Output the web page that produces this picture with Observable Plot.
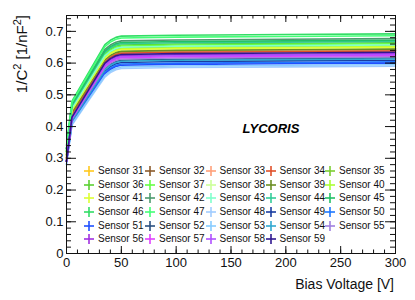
<!DOCTYPE html>
<html><head><meta charset="utf-8">
<script src="https://cdn.jsdelivr.net/npm/d3@7"></script>
<script src="https://cdn.jsdelivr.net/npm/@observablehq/plot@0.6"></script>
<style>
body{margin:0;background:#fff;}
#wrap{position:relative;width:415px;height:300px;font-family:"Liberation Sans",Arial,sans-serif;}
.item{position:absolute;font-size:10px;color:#111;white-space:nowrap;line-height:10px;}
.item svg{position:absolute;left:0;top:0;}
.item span{position:absolute;left:14px;top:0;}
</style></head><body><div id="wrap"></div><script>
const sensors = ["Sensor 31","Sensor 32","Sensor 33","Sensor 34","Sensor 35","Sensor 36","Sensor 37","Sensor 38","Sensor 39","Sensor 40","Sensor 41","Sensor 42","Sensor 43","Sensor 44","Sensor 45","Sensor 46","Sensor 47","Sensor 48","Sensor 49","Sensor 50","Sensor 51","Sensor 52","Sensor 53","Sensor 54","Sensor 55","Sensor 56","Sensor 57","Sensor 58","Sensor 59"];
const colors = ["#ffc81e","#8b5a2b","#ffa07a","#e0502a","#7ccd32","#5cd032","#66ff44","#ccff99","#6b8e23","#aaff33","#ddff33","#4c9a6e","#80ffcc","#33cc99","#22c066","#33dd66","#44ff77","#a0ccff","#1a3ca0","#1e78ff","#2050ff","#2b5080","#88ccff","#30a8d0","#a080e0","#a030e0","#e040ff","#b050ff","#301890"];
const voltages = [0, 5, 20, 35, 40, 45, 50, 100, 200, 300];
const s31 = [0.30,0.445,0.529,0.612,0.626,0.635,0.639,0.642,0.644,0.646];
const s32 = [0.30,0.440,0.523,0.606,0.620,0.629,0.633,0.636,0.638,0.640];
const s33 = [0.31,0.445,0.526,0.607,0.621,0.630,0.634,0.637,0.639,0.641];
const s34 = [0.30,0.440,0.522,0.604,0.618,0.627,0.631,0.634,0.636,0.638];
const s35 = [0.32,0.455,0.538,0.621,0.635,0.644,0.648,0.651,0.653,0.655];
const s36 = [0.32,0.460,0.545,0.630,0.644,0.653,0.657,0.660,0.662,0.664];
const s37 = [0.32,0.462,0.545,0.627,0.641,0.650,0.654,0.657,0.659,0.661];
const s38 = [0.31,0.450,0.531,0.612,0.626,0.635,0.639,0.642,0.644,0.646];
const s39 = [0.31,0.445,0.528,0.610,0.624,0.633,0.637,0.640,0.642,0.644];
const s40 = [0.32,0.455,0.537,0.618,0.632,0.641,0.645,0.648,0.650,0.652];
const s41 = [0.31,0.452,0.534,0.616,0.630,0.639,0.643,0.646,0.648,0.650];
const s42 = [0.33,0.470,0.557,0.643,0.657,0.666,0.670,0.673,0.675,0.677];
const s43 = [0.32,0.458,0.541,0.623,0.637,0.646,0.650,0.653,0.655,0.657];
const s44 = [0.33,0.465,0.550,0.634,0.648,0.657,0.661,0.664,0.666,0.668];
const s45 = [0.33,0.470,0.554,0.638,0.652,0.661,0.665,0.668,0.670,0.672];
const s46 = [0.34,0.480,0.569,0.658,0.672,0.681,0.685,0.688,0.690,0.692];
const s47 = [0.33,0.476,0.564,0.652,0.666,0.675,0.679,0.682,0.684,0.686];
const s48 = [0.28,0.405,0.481,0.556,0.570,0.579,0.583,0.586,0.588,0.590];
const s49 = [0.29,0.415,0.495,0.575,0.589,0.598,0.602,0.605,0.607,0.609];
const s50 = [0.29,0.412,0.491,0.570,0.584,0.593,0.597,0.600,0.602,0.604];
const s51 = [0.29,0.410,0.488,0.566,0.580,0.589,0.593,0.596,0.598,0.600];
const s52 = [0.29,0.420,0.501,0.582,0.596,0.605,0.609,0.612,0.614,0.616];
const s53 = [0.28,0.408,0.485,0.561,0.575,0.584,0.588,0.591,0.593,0.595];
const s54 = [0.29,0.418,0.499,0.579,0.593,0.602,0.606,0.609,0.611,0.613];
const s55 = [0.29,0.425,0.506,0.586,0.600,0.609,0.613,0.616,0.618,0.620];
const s56 = [0.29,0.428,0.512,0.596,0.610,0.619,0.623,0.626,0.628,0.630];
const s57 = [0.29,0.425,0.508,0.590,0.604,0.613,0.617,0.620,0.622,0.624];
const s58 = [0.29,0.427,0.510,0.593,0.607,0.616,0.620,0.623,0.625,0.627];
const s59 = [0.29,0.430,0.515,0.600,0.614,0.623,0.627,0.630,0.632,0.634];
const series = [s31,s32,s33,s34,s35,s36,s37,s38,s39,s40,s41,s42,s43,s44,s45,s46,s47,s48,s49,s50,s51,s52,s53,s54,s55,s56,s57,s58,s59];
const xTicks = [0, 50, 100, 150, 200, 250, 300];
const yTicks = [0, 0.1, 0.2, 0.3, 0.4, 0.5, 0.6, 0.7];
const xMinor = d3.range(0, 301, 10);
const yMinor = d3.range(0, 0.7501, 0.02);

const data = [];
series.forEach((vals, i) => vals.forEach((c, j) => data.push({sensor: sensors[i], V: voltages[j], C: c})));

const W = 415, H = 300, mL = 66, mR = 20, mT = 15, mB = 47;
const FW = W - mL - mR, FH = H - mT - mB;
const ink = "#111";
const svg = Plot.plot({
  width: W, height: H,
  marginLeft: mL, marginRight: mR, marginTop: mT, marginBottom: mB,
  style: {fontFamily: "'Liberation Sans', Arial, sans-serif", background: "#fff", overflow: "visible"},
  x: {domain: [0, 300]},
  y: {domain: [0, 0.75]},
  color: {domain: sensors, range: colors},
  marks: [
    Plot.line(data, {x: "V", y: "C", z: "sensor", stroke: "sensor", strokeWidth: 1.6, strokeLinejoin: "round"}),
    Plot.ruleX(xMinor, {insetTop: FH - 3.5, stroke: ink}),
    Plot.ruleX(xMinor, {insetBottom: FH - 3.5, stroke: ink}),
    Plot.ruleX(xTicks, {insetTop: FH - 7, stroke: ink}),
    Plot.ruleX(xTicks, {insetBottom: FH - 7, stroke: ink}),
    Plot.ruleY(yMinor, {insetRight: FW - 5, stroke: ink}),
    Plot.ruleY(yMinor, {insetLeft: FW - 5, stroke: ink}),
    Plot.ruleY(yTicks, {insetRight: FW - 10, stroke: ink}),
    Plot.ruleY(yTicks, {insetLeft: FW - 10, stroke: ink}),
    Plot.frame({stroke: ink}),
    Plot.axisX(xTicks, {tickSize: 0, tickPadding: 4, fontSize: 13, fill: ink, label: null}),
    Plot.axisY(yTicks, {tickSize: 0, tickPadding: 3, fontSize: 13, fill: ink, label: null,
      tickFormat: d => d === 0 ? "0" : d.toFixed(1)})
  ]
});
const wrap = document.getElementById("wrap");
wrap.appendChild(svg);
const s = d3.select(svg);
s.append("text").attr("x", 394).attr("y", 289).attr("text-anchor", "end")
  .attr("font-size", 14).attr("fill", ink).text("Bias Voltage [V]");
const yt = s.append("text").attr("transform", "translate(27,15) rotate(-90)").attr("text-anchor", "end")
  .attr("font-size", 15).attr("fill", ink);
yt.append("tspan").text("1/C");
yt.append("tspan").attr("dy", -6).attr("font-size", 11).text("2");
yt.append("tspan").attr("dy", 6).text(" [1/nF");
yt.append("tspan").attr("dy", -6).attr("font-size", 11).text("2");
yt.append("tspan").attr("dy", 6).text("]");
s.append("text").attr("x", 271).attr("y", 133).attr("font-size", 13).attr("font-weight", "bold")
  .attr("font-style", "italic").attr("fill", "#000").text("LYCORIS");

const colX = [89, 150, 210.5, 270.5, 330];
const rowY = [171, 184.7, 198.3, 212, 225.7, 239.3];
sensors.forEach((name, i) => {
  const cx = colX[i % 5], cy = rowY[Math.floor(i / 5)];
  const d = document.createElement("div");
  d.className = "item";
  d.style.left = (cx - 5) + "px";
  d.style.top = (cy - 5) + "px";
  d.innerHTML = `<svg width="10" height="10"><line x1="0" y1="5" x2="10" y2="5" stroke="${colors[i]}" stroke-width="1.6"/><line x1="5" y1="0" x2="5" y2="10" stroke="${colors[i]}" stroke-width="1.6"/></svg><span>${name}</span>`;
  wrap.appendChild(d);
});
</script></body></html>
